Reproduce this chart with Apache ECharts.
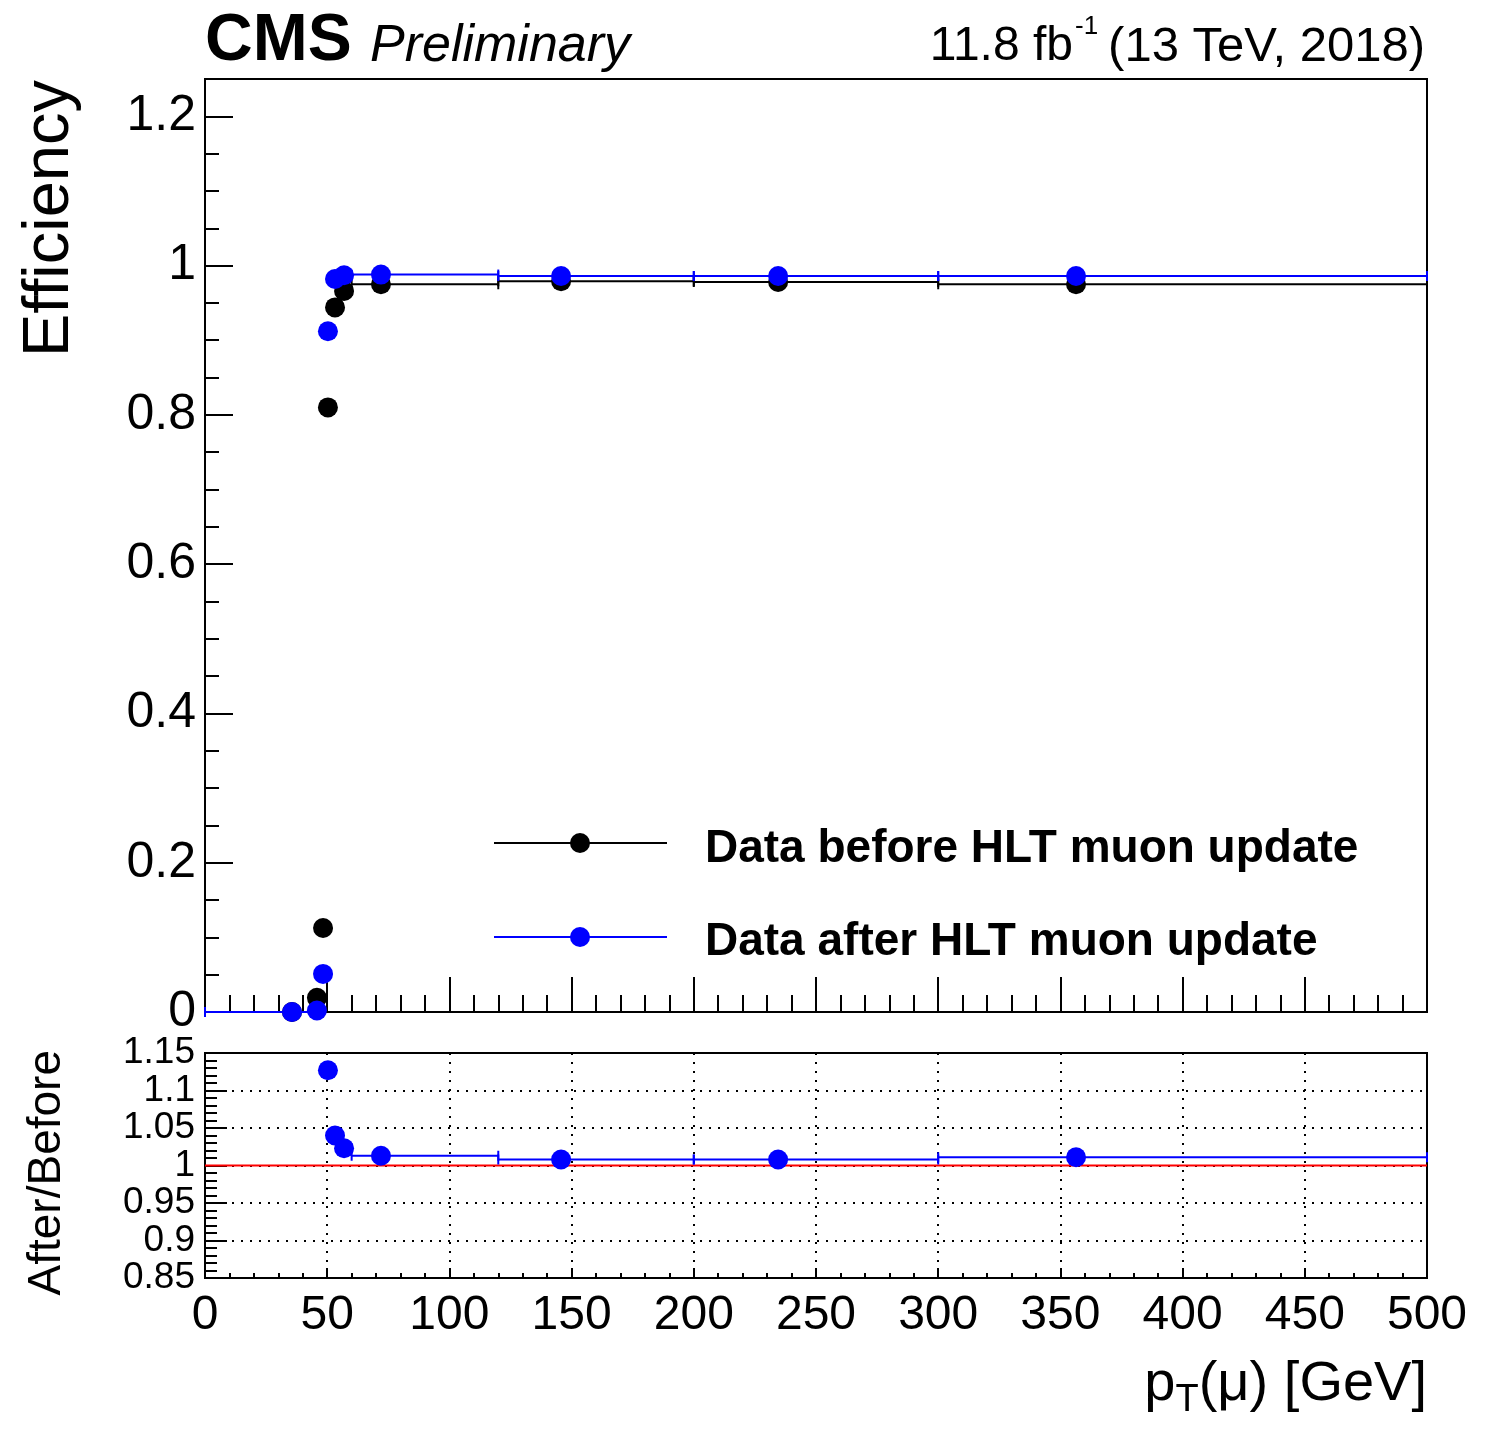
<!DOCTYPE html>
<html>
<head>
<meta charset="utf-8">
<script src="https://cdn.jsdelivr.net/npm/echarts@6/dist/echarts.min.js"></script>
<style>
html,body{margin:0;padding:0;background:#fff;}
#chart{width:1485px;height:1432px;}
</style>
</head>
<body>
<div id="chart"></div>
<script>
// ---- data ----
const binLow  = [0, 45, 48, 50, 52, 55, 60, 120, 200, 300];
const binHigh = [45, 48, 50, 52, 55, 60, 120, 200, 300, 500];
const ptMean  = [35.6, 45.8, 48.3, 50.3, 53.2, 56.9, 72, 145.7, 234.5, 356.4];
const effBefore = [0.000, 0.019, 0.1125, 0.810, 0.944, 0.966, 0.975, 0.979, 0.978, 0.975];
const effAfter  = [0.000, 0.002, 0.051, 0.912, 0.982, 0.987, 0.988, 0.986, 0.986, 0.986];

const ratioBinLow  = [50, 52, 55, 60, 120, 200, 300];
const ratioBinHigh = [52, 55, 60, 120, 200, 300, 500];
const ratioX   = [50.3, 53.2, 56.9, 72, 145.7, 234.5, 356.4];
const ratioVal = [1.127, 1.040, 1.023, 1.013, 1.008, 1.008, 1.011];
const refLine  = [[0, 1], [500, 1]];

const xTicks = [0, 50, 100, 150, 200, 250, 300, 350, 400, 450, 500];

const FONT = "'Liberation Sans', Arial, Helvetica, sans-serif";

function errRows(lo, hi, y) { return y.map((v, i) => [lo[i], hi[i], v]); }
function pts(x, y) { return y.map((v, i) => [x[i], v]); }

function errItem(color) {
  return function (params, api) {
    const y = api.value(2);
    const p1 = api.coord([api.value(0), y]);
    const p2 = api.coord([api.value(1), y]);
    const cap = 5;
    const st = { stroke: color, lineWidth: 2 };
    return {
      type: 'group',
      children: [
        { type: 'line', shape: { x1: p1[0], y1: p1[1], x2: p2[0], y2: p2[1] }, style: st },
        { type: 'line', shape: { x1: p1[0], y1: p1[1] - cap, x2: p1[0], y2: p1[1] + cap }, style: st },
        { type: 'line', shape: { x1: p2[0], y1: p2[1] - cap, x2: p2[0], y2: p2[1] + cap }, style: st }
      ]
    };
  };
}

const blackLine = { color: '#000', width: 2 };
const dotted = { color: '#000', width: 2, type: [2, 7] };

const option = {
  animation: false,
  backgroundColor: '#fff',
  grid: [
    { left: 205, top: 79, width: 1222, height: 933, show: true, borderColor: '#000', borderWidth: 2, backgroundColor: 'transparent' },
    { left: 205, top: 1053, width: 1222, height: 225, show: true, borderColor: '#000', borderWidth: 2, backgroundColor: 'transparent' }
  ],
  xAxis: [
    {
      gridIndex: 0, type: 'value', min: xTicks[0], max: xTicks[xTicks.length - 1], interval: 50,
      axisLine: { show: true, onZero: false, lineStyle: blackLine },
      axisTick: { show: true, inside: true, length: 35, lineStyle: blackLine },
      minorTick: { show: true, splitNumber: 5, length: 17, lineStyle: blackLine },
      axisLabel: { show: false },
      splitLine: { show: false }
    },
    {
      gridIndex: 1, type: 'value', min: xTicks[0], max: xTicks[xTicks.length - 1], interval: 50,
      axisLine: { show: true, onZero: false, lineStyle: blackLine },
      axisTick: { show: true, inside: true, length: 10, lineStyle: blackLine },
      minorTick: { show: true, splitNumber: 5, length: 5, lineStyle: blackLine },
      axisLabel: { show: true, fontSize: 48, fontFamily: FONT, color: '#000', margin: 14 },
      splitLine: { show: true, lineStyle: dotted }
    }
  ],
  yAxis: [
    {
      gridIndex: 0, type: 'value', position: 'left', min: 0, max: 1.25, interval: 0.2,
      axisLine: { show: true, onZero: false, lineStyle: blackLine },
      axisTick: { show: true, inside: true, length: 28, lineStyle: blackLine },
      axisLabel: { show: true, fontSize: 50, fontFamily: FONT, color: '#000', margin: 9, showMaxLabel: false,
        formatter: v => (Math.abs(v * 5 - Math.round(v * 5)) < 1e-6 ? String(+v.toFixed(2)) : '') },
      splitLine: { show: false }
    },
    {
      gridIndex: 0, type: 'value', position: 'left', offset: 0, min: 0, max: 1.25, interval: 0.05,
      axisLine: { show: false },
      axisTick: { show: true, inside: true, length: 14, lineStyle: blackLine },
      axisLabel: { show: false },
      splitLine: { show: false }
    },
    {
      gridIndex: 1, type: 'value', position: 'left', min: 0.85, max: 1.15, interval: 0.05,
      axisLine: { show: true, onZero: false, lineStyle: blackLine },
      axisTick: { show: true, inside: true, length: 22, lineStyle: blackLine },
      minorTick: { show: true, splitNumber: 5, length: 12, lineStyle: blackLine },
      axisLabel: { show: true, fontSize: 37, fontFamily: FONT, color: '#000', margin: 10,
        formatter: v => String(+v.toFixed(2)) },
      splitLine: { show: true, lineStyle: dotted }
    }
  ],
  series: [
    {
      type: 'custom', name: 'errBefore', xAxisIndex: 0, yAxisIndex: 0, z: 2,
      renderItem: errItem('#000'), encode: { x: [0, 1], y: 2 },
      data: errRows(binLow, binHigh, effBefore)
    },
    {
      type: 'scatter', name: 'Data before HLT muon update', xAxisIndex: 0, yAxisIndex: 0, z: 3,
      symbol: 'circle', symbolSize: 20, clip: false, itemStyle: { color: '#000', opacity: 1 },
      data: pts(ptMean, effBefore)
    },
    {
      type: 'custom', name: 'errAfter', xAxisIndex: 0, yAxisIndex: 0, z: 4,
      renderItem: errItem('#0000ff'), encode: { x: [0, 1], y: 2 },
      data: errRows(binLow, binHigh, effAfter)
    },
    {
      type: 'scatter', name: 'Data after HLT muon update', xAxisIndex: 0, yAxisIndex: 0, z: 5,
      symbol: 'circle', symbolSize: 20, clip: false, itemStyle: { color: '#0000ff', opacity: 1 },
      data: pts(ptMean, effAfter)
    },
    {
      type: 'line', name: 'unity', xAxisIndex: 1, yAxisIndex: 2, z: 2,
      symbol: 'none', lineStyle: { color: '#ff0000', width: 2 }, data: refLine
    },
    {
      type: 'custom', name: 'errRatio', xAxisIndex: 1, yAxisIndex: 2, z: 4,
      renderItem: errItem('#0000ff'), encode: { x: [0, 1], y: 2 },
      data: errRows(ratioBinLow, ratioBinHigh, ratioVal)
    },
    {
      type: 'scatter', name: 'ratio', xAxisIndex: 1, yAxisIndex: 2, z: 5,
      symbol: 'circle', symbolSize: 20, clip: false, itemStyle: { color: '#0000ff', opacity: 1 },
      data: pts(ratioX, ratioVal)
    }
  ],
  graphic: [
    { type: 'text', x: 205, y: 42, style: { text: 'CMS', font: 'bold 66px ' + FONT, fill: '#000', align: 'left', verticalAlign: 'middle' } },
    { type: 'text', x: 370, y: 47, style: { text: 'Preliminary', font: 'italic 52px ' + FONT, fill: '#000', align: 'left', verticalAlign: 'middle' } },
    { type: 'text', x: 1073, y: 47, style: { text: '11.8 fb', font: '48px ' + FONT, fill: '#000', align: 'right', verticalAlign: 'middle' } },
    { type: 'text', x: 1075, y: 27, style: { text: '-1', font: '26px ' + FONT, fill: '#000', align: 'left', verticalAlign: 'middle' } },
    { type: 'text', x: 1425, y: 47, style: { text: '(13 TeV, 2018)', font: '49px ' + FONT, fill: '#000', align: 'right', verticalAlign: 'middle' } },
    { type: 'text', x: 50, y: 80, rotation: Math.PI / 2, style: { text: 'Efficiency', font: '65px ' + FONT, fill: '#000', align: 'right', verticalAlign: 'middle' } },
    { type: 'text', x: 47, y: 1050, rotation: Math.PI / 2, style: { text: 'After/Before', font: '46px ' + FONT, fill: '#000', align: 'right', verticalAlign: 'middle' } },
    { type: 'text', x: 1427, y: 1385, style: {
        text: '{n|p}{s|T}{n|(\u03bc) [GeV]}', align: 'right', verticalAlign: 'middle', fill: '#000',
        rich: {
          n: { fontSize: 56, fontFamily: FONT, lineHeight: 70, color: '#000' },
          s: { fontSize: 38, fontFamily: FONT, lineHeight: 22, verticalAlign: 'bottom', color: '#000' }
        } } },
    // legend
    { type: 'line', shape: { x1: 494, y1: 843, x2: 667, y2: 843 }, style: { stroke: '#000', lineWidth: 2 } },
    { type: 'circle', shape: { cx: 580, cy: 843, r: 10 }, style: { fill: '#000' } },
    { type: 'text', x: 705, y: 849, style: { text: 'Data before HLT muon update', font: 'bold 46px ' + FONT, fill: '#000', align: 'left', verticalAlign: 'middle' } },
    { type: 'line', shape: { x1: 494, y1: 937, x2: 667, y2: 937 }, style: { stroke: '#0000ff', lineWidth: 2 } },
    { type: 'circle', shape: { cx: 580, cy: 937, r: 10 }, style: { fill: '#0000ff' } },
    { type: 'text', x: 705, y: 942, style: { text: 'Data after HLT muon update', font: 'bold 46px ' + FONT, fill: '#000', align: 'left', verticalAlign: 'middle' } }
  ]
};

const chart = echarts.init(document.getElementById('chart'), null, { renderer: 'canvas' });
chart.setOption(option);
</script>
</body>
</html>
